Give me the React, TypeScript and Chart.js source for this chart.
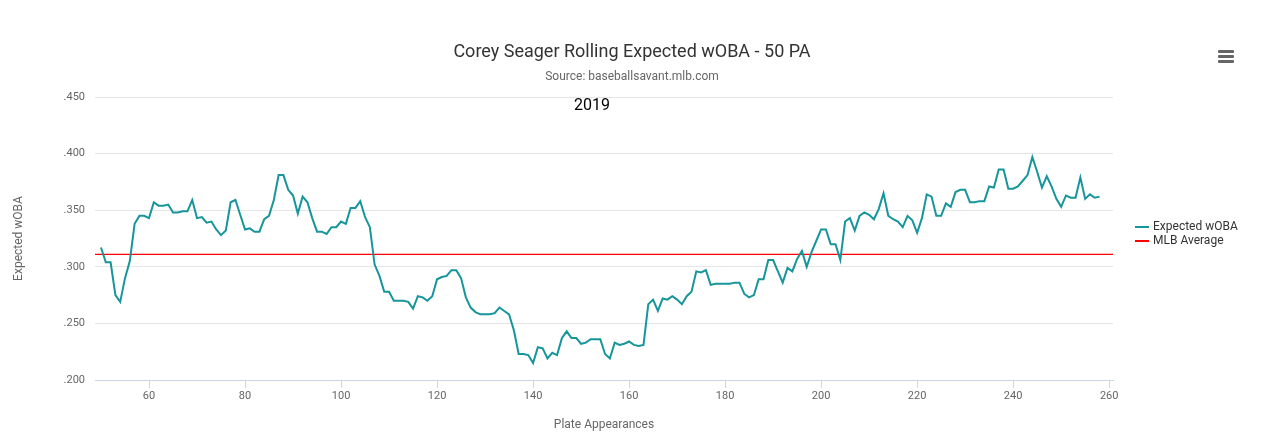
import React, { useEffect, useRef } from "react";
import { Chart, registerables } from "chart.js";
Chart.register(...registerables);

const startPA = 50;
const xwoba = [
  0.317, 0.304, 0.304, 0.275, 0.269, 0.29, 0.305, 0.338, 0.345, 0.345, 0.343, 0.357, 0.354, 0.354, 0.355, 0.348, 0.348, 0.349, 0.349, 0.359,
  0.343, 0.344, 0.339, 0.34, 0.333, 0.328, 0.332, 0.357, 0.359, 0.346, 0.333, 0.334, 0.331, 0.331, 0.342, 0.345, 0.359, 0.381, 0.381, 0.368,
  0.363, 0.347, 0.362, 0.357, 0.343, 0.331, 0.331, 0.329, 0.335, 0.335, 0.34, 0.338, 0.352, 0.352, 0.358, 0.344, 0.335, 0.302, 0.292, 0.278,
  0.278, 0.27, 0.27, 0.27, 0.269, 0.263, 0.274, 0.273, 0.27, 0.274, 0.289, 0.291, 0.292, 0.297, 0.297, 0.29, 0.273, 0.264, 0.26, 0.258,
  0.258, 0.258, 0.259, 0.264, 0.261, 0.258, 0.244, 0.223, 0.223, 0.222, 0.215, 0.229, 0.228, 0.219, 0.224, 0.222, 0.237, 0.243, 0.237, 0.237,
  0.232, 0.233, 0.236, 0.236, 0.236, 0.223, 0.219, 0.233, 0.231, 0.232, 0.234, 0.231, 0.23, 0.231, 0.267, 0.271, 0.261, 0.272, 0.271, 0.274,
  0.271, 0.267, 0.274, 0.278, 0.296, 0.295, 0.297, 0.284, 0.285, 0.285, 0.285, 0.285, 0.286, 0.286, 0.276, 0.273, 0.275, 0.289, 0.289, 0.306,
  0.306, 0.296, 0.286, 0.299, 0.296, 0.307, 0.314, 0.3, 0.313, 0.323, 0.333, 0.333, 0.32, 0.32, 0.306, 0.34, 0.343, 0.332, 0.345, 0.348,
  0.346, 0.342, 0.351, 0.365, 0.345, 0.342, 0.34, 0.335, 0.345, 0.341, 0.33, 0.343, 0.364, 0.362, 0.345, 0.345, 0.356, 0.353, 0.366, 0.368,
  0.368, 0.357, 0.357, 0.358, 0.358, 0.371, 0.37, 0.386, 0.386, 0.369, 0.369, 0.371, 0.376, 0.381, 0.397, 0.384, 0.37, 0.38, 0.371, 0.36,
  0.353, 0.363, 0.361, 0.361, 0.379, 0.36, 0.364, 0.361, 0.362,
];
const mlbAverage = 0.311;
const xTicks = [60, 80, 100, 120, 140, 160, 180, 200, 220, 240, 260];
const yTicks = [0.2, 0.25, 0.3, 0.35, 0.4, 0.45];
const xMin = 48.75;
const xMax = 260.8;
const titleText = "Corey Seager Rolling Expected wOBA - 50 PA";
const subtitleText = "Source: baseballsavant.mlb.com";
const yearText = "2019";
const seriesNames = ["Expected wOBA", "MLB Average"];
const seriesColors = ["#16959b", "#ff0000"];

const FONT = "Roboto, 'Noto Sans', sans-serif";

export default function App() {
  const ref = useRef<HTMLCanvasElement>(null);
  useEffect(() => {
    const pts = xwoba.map((y, i) => ({ x: startPA + i, y }));
    const deco = {
      id: "deco",
      afterDraw(c: any) {
        const ctx = c.ctx;
        const a = c.chartArea;
        ctx.save();
        ctx.textAlign = "center";
        ctx.textBaseline = "middle";
        ctx.fillStyle = "#333";
        ctx.font = `18px ${FONT}`;
        ctx.fillText(titleText, 624, 44);
        ctx.fillStyle = "#666";
        ctx.font = `12px ${FONT}`;
        ctx.fillText(subtitleText, 624, 69);
        ctx.fillStyle = "#000";
        ctx.font = `16px ${FONT}`;
        ctx.fillText(yearText, 584, 98);
        ctx.textAlign = "left";
        ctx.font = `12px ${FONT}`;
        seriesNames.forEach((n, i) => {
          const y = 219 + i * 14;
          ctx.strokeStyle = seriesColors[i];
          ctx.lineWidth = 2;
          ctx.beginPath();
          ctx.moveTo(1127, y);
          ctx.lineTo(1141, y);
          ctx.stroke();
          ctx.fillStyle = "#333";
          ctx.fillText(n, 1145, y);
        });
        ctx.restore();
      },
    };
    const chart = new Chart(ref.current!, {
      type: "line",
      data: {
        datasets: [
          { label: seriesNames[0], data: pts, borderColor: seriesColors[0], borderWidth: 2, pointRadius: 0, tension: 0 },
          {
            label: seriesNames[1],
            data: [
              { x: xMin, y: mlbAverage },
              { x: xMax, y: mlbAverage },
            ],
            borderColor: seriesColors[1],
            borderWidth: 1.3,
            pointRadius: 0,
          },
        ],
      },
      options: {
        responsive: false,
        animation: false,
        layout: { padding: { top: 89, right: 143, left: 0, bottom: 0 } },
        plugins: { legend: { display: false }, tooltip: { enabled: false }, title: { display: false } },
        scales: {
          x: {
            type: "linear",
            min: xMin,
            max: xMax,
            afterBuildTicks: (s: any) => {
              s.ticks = xTicks.map((v) => ({ value: v }));
            },
            afterFit: (s: any) => {
              s.height = 56;
            },
            grid: { drawOnChartArea: false, color: "#ccd6eb", tickLength: 8 },
            border: { color: "#ccd6eb" },
            ticks: { color: "#666", font: { family: FONT, size: 11 }, padding: 2, maxRotation: 0 },
            title: { display: true, text: "Plate Appearances", color: "#666", font: { family: FONT, size: 12 }, padding: { top: 4 } },
          },
          y: {
            min: 0.2,
            max: 0.45,
            afterBuildTicks: (s: any) => {
              s.ticks = yTicks.map((v) => ({ value: v }));
            },
            afterFit: (s: any) => {
              s.width = 87;
            },
            grid: { color: "#e6e6e6", drawTicks: false },
            border: { display: false },
            ticks: {
              color: "#666",
              font: { family: FONT, size: 11 },
              padding: 10,
              callback: (v: any) => Number(v).toFixed(3).replace(/^0/, ""),
            },
            title: { display: true, text: "Expected wOBA", color: "#666", font: { family: FONT, size: 12 }, padding: { bottom: 18 } },
          },
        },
      },
      plugins: [deco],
    });
    return () => chart.destroy();
  }, []);
  return (
    <div style={{ position: "relative", width: 1248, height: 428 }}>
      <canvas ref={ref} width={1248} height={428} style={{ width: 1248, height: 428 }} />
      <div style={{ position: "absolute", left: 1210, top: 42, width: 16 }}>
        {[0, 1, 2].map((i) => (
          <div key={i} style={{ height: 3, background: "#666", marginBottom: 2, borderRadius: 1 }} />
        ))}
      </div>
    </div>
  );
}
